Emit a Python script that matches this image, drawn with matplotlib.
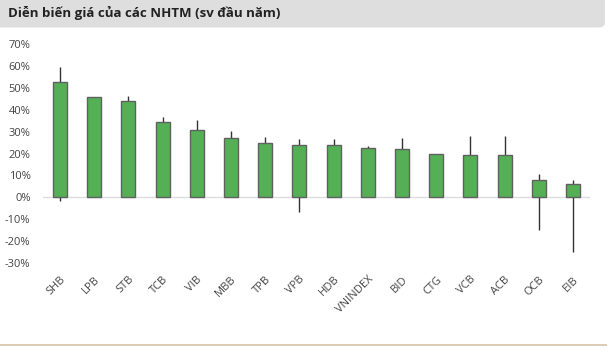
import matplotlib
matplotlib.use("Agg")
from matplotlib import pyplot as plt
from matplotlib.patches import FancyBboxPatch, Rectangle
from matplotlib.ticker import FuncFormatter

plt.rcParams['font.family'] = ['Open Sans', 'DejaVu Sans']

# Dữ liệu: thân nến từ 0 đến mức tăng hiện tại, râu là đỉnh/đáy (%)
tickers = ["SHB", "LPB", "STB", "TCB", "VIB", "MBB", "TPB", "VPB",
           "HDB", "VNINDEX", "BID", "CTG", "VCB", "ACB", "OCB", "EIB"]
close = [52.5, 45.7, 44.0, 34.4, 30.9, 27.1, 24.8, 23.9,
         23.9, 22.7, 22.2, 19.8, 19.4, 19.4, 7.9, 6.1]
high = [59.7, 45.7, 46.3, 36.7, 35.3, 30.5, 27.7, 26.7,
        26.7, 23.5, 27.3, 19.8, 28.2, 28.2, 10.7, 7.8]
low = [-1.5, 0, 0, 0, 0, 0, 0, -6.8,
       0, 0, 0, 0, 0, 0, -14.8, -24.8]

fig = plt.figure(figsize=(6.11, 3.52), dpi=100)

# khung tiêu đề
fig.patches.append(FancyBboxPatch((-0.02, 0.922), 1.01, 0.2, boxstyle="round,pad=0,rounding_size=0.012",
                                  transform=fig.transFigure, facecolor="#dedede", edgecolor="none"))
fig.text(0.013, 0.962, "Diễn biến giá của các NHTM (sv đầu năm)", fontsize=9.5,
         fontweight="bold", color="#222222", va="center", ha="left")
fig.patches.append(Rectangle((0, 0.018), 0.994, 0.006, transform=fig.transFigure,
                             facecolor="#dccbb6", edgecolor="none"))

ax = fig.add_axes([43 / 611, 89 / 352, 547 / 611, 219 / 352])
x = list(range(len(tickers)))

ax.vlines(x, low, high, color="#333333", linewidth=1.0, zorder=2)
ax.bar(x, close, width=0.41, color="#55b055", edgecolor="#606060", linewidth=1.0, zorder=3)
ax.axhline(0, color="#dddddd", linewidth=1.0, zorder=1)

ax.set_xlim(-0.5, len(tickers) - 0.5)
ax.set_ylim(-30, 70)
ax.set_yticks(range(-30, 71, 10))
ax.yaxis.set_major_formatter(FuncFormatter(lambda v, p: f"{v:.0f}%"))
ax.set_xticks(x)
ax.set_xticklabels(tickers, rotation=45, ha="right", rotation_mode="anchor")
ax.tick_params(length=0, labelsize=8, labelcolor="#444444")
ax.tick_params(axis="y", pad=9)
ax.tick_params(axis="x", pad=8)
for s in ax.spines.values():
    s.set_visible(False)

fig.savefig("out.png", dpi=100)
